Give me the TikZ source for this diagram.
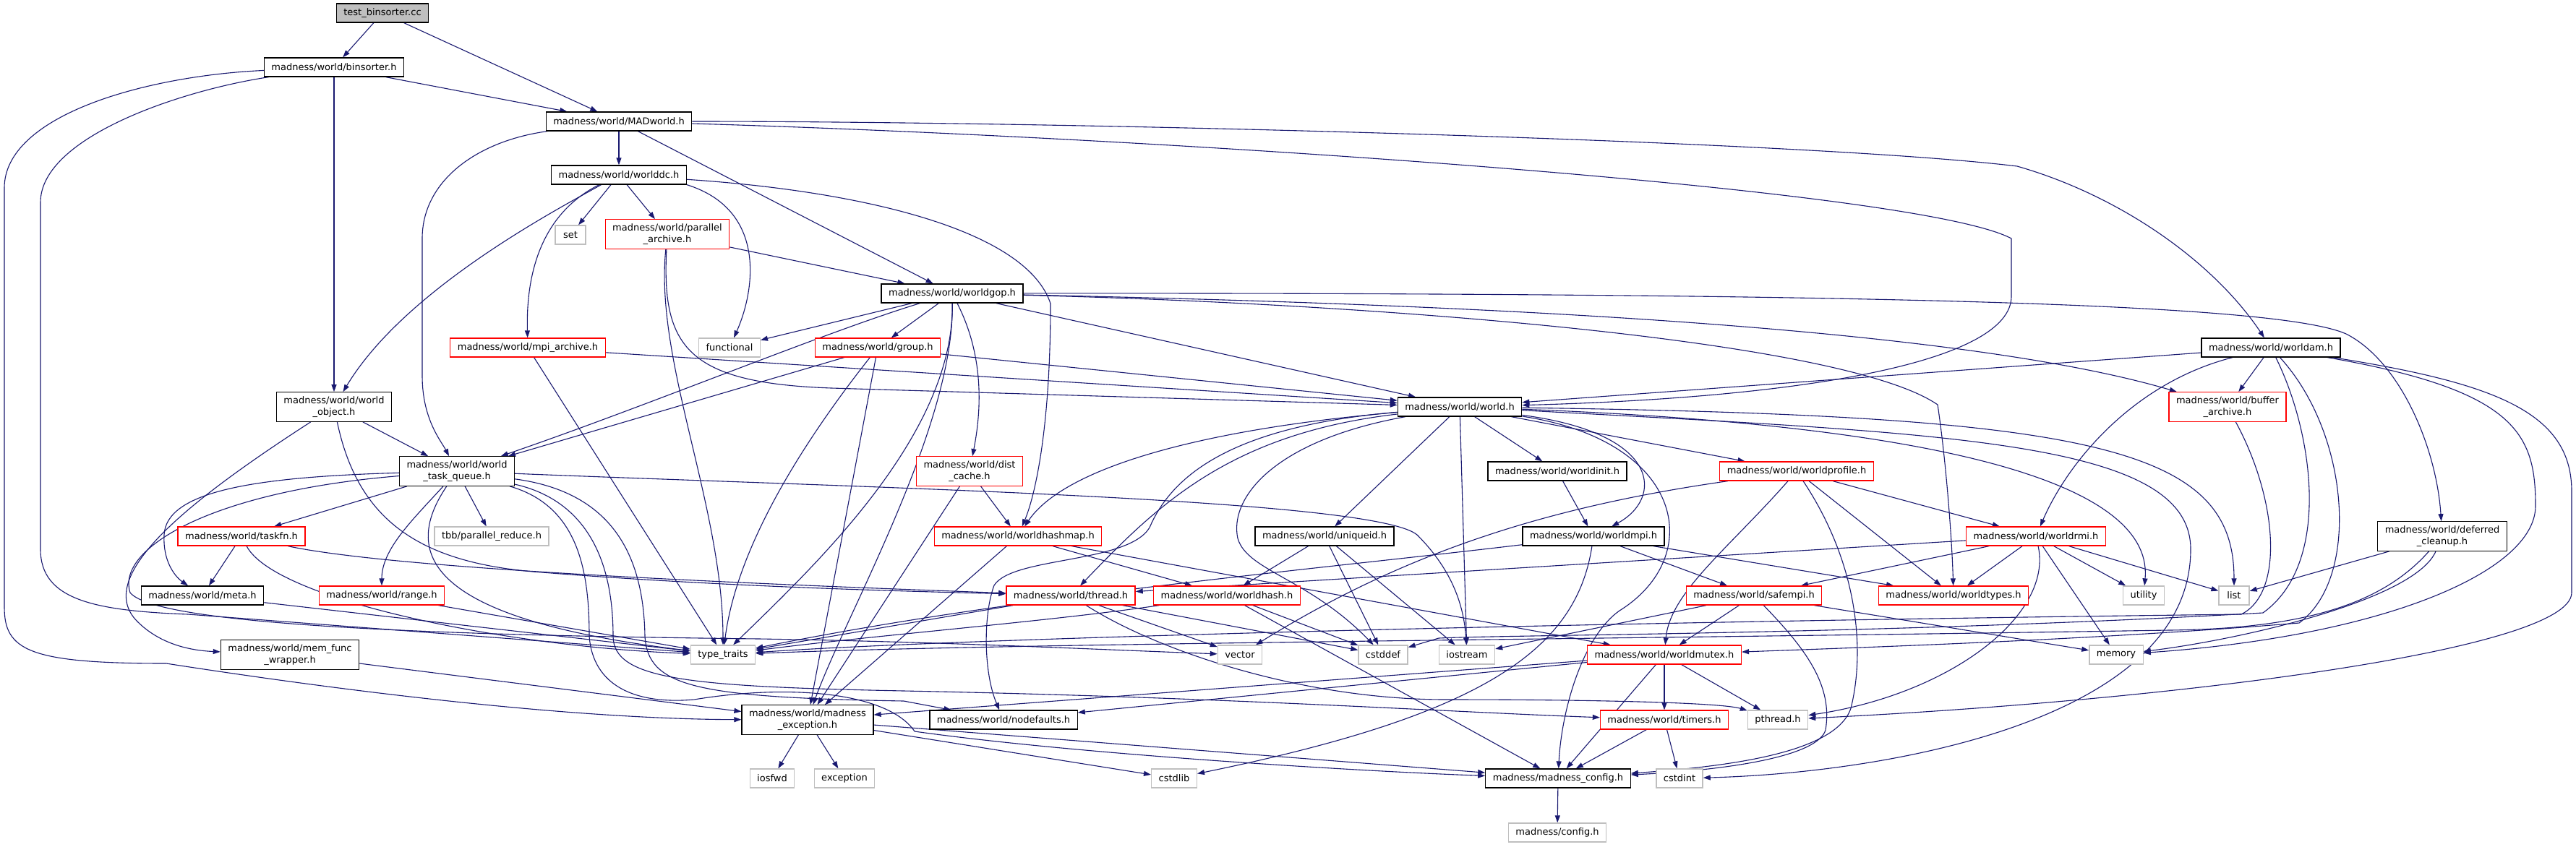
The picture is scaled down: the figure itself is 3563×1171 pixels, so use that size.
\documentclass[tikz,border=0pt]{standalone}
\usepackage{fontspec}
\setmainfont{DejaVu Sans}
\usepackage{tikz}
\usetikzlibrary{arrows.meta}
\definecolor{depblue}{RGB}{25,25,112}
\definecolor{sysgray}{RGB}{191,191,191}
\definecolor{cutred}{RGB}{255,0,0}
\pgfdeclarelayer{bg}
\pgfsetlayers{bg,main}

\begin{document}
\begin{tikzpicture}[x=1pt,y=-1pt,
  hdr/.style={draw=black,line width=1.3pt,fill=white,font=\fontsize{13}{15.5}\selectfont,
    inner xsep=10pt,inner ysep=6pt,minimum height=26pt,minimum width=42pt,align=center},
  mainhdr/.style={hdr,fill=sysgray},
  parthdr/.style={hdr,draw=cutred},
  syshdr/.style={hdr,draw=sysgray},
  dep/.style={draw=depblue,line width=1.1pt,-{Triangle[length=10pt,width=7pt]}}]
  \useasboundingbox (0,0) rectangle (3563,1171);
  % headers, row by row
  \node[mainhdr] (tb) at (529,18) {test\_binsorter.cc};
  \node[hdr] (bin) at (462,93) {madness/world/binsorter.h};
  \node[hdr] (mad) at (856,168) {madness/world/MADworld.h};
  \node[hdr] (wdc) at (856,242) {madness/world/worlddc.h};
  \node[syshdr] (set) at (789,325) {set};
  \node[parthdr] (par) at (923,324) {madness/world/parallel\\\_archive.h};
  \node[hdr] (gop) at (1317,406) {madness/world/worldgop.h};
  \node[parthdr] (mpia) at (730,481) {madness/world/mpi\_archive.h};
  \node[syshdr] (fun) at (1009,481) {functional};
  \node[parthdr] (grp) at (1214,481) {madness/world/group.h};
  \node[hdr] (wam) at (3141,481) {madness/world/worldam.h};
  \node[hdr] (wobj) at (462,563) {madness/world/world\\\_object.h};
  \node[hdr] (wld) at (2019,563) {madness/world/world.h};
  \node[parthdr] (buf) at (3081,563) {madness/world/buffer\\\_archive.h};
  \node[hdr] (wtq) at (632,652) {madness/world/world\\\_task\_queue.h};
  \node[parthdr] (dc) at (1341,652) {madness/world/dist\\\_cache.h};
  \node[hdr] (winit) at (2154,652) {madness/world/worldinit.h};
  \node[parthdr] (wprof) at (2485,652) {madness/world/worldprofile.h};
  \node[parthdr] (tfn) at (334,742) {madness/world/taskfn.h};
  \node[syshdr] (tbb) at (680,742) {tbb/parallel\_reduce.h};
  \node[parthdr] (whm) at (1408,742) {madness/world/worldhashmap.h};
  \node[hdr] (uid) at (1832,742) {madness/world/uniqueid.h};
  \node[hdr] (wmpi) at (2204,742) {madness/world/worldmpi.h};
  \node[parthdr] (wrmi) at (2816,742) {madness/world/worldrmi.h};
  \node[hdr] (dcl) at (3378,742) {madness/world/deferred\\\_cleanup.h};
  \node[hdr] (meta) at (280,824) {madness/world/meta.h};
  \node[parthdr] (rng) at (528,824) {madness/world/range.h};
  \node[parthdr] (thr) at (1481,824) {madness/world/thread.h};
  \node[parthdr] (wh) at (1697,824) {madness/world/worldhash.h};
  \node[parthdr] (smpi) at (2426,824) {madness/world/safempi.h};
  \node[parthdr] (wty) at (2702,824) {madness/world/worldtypes.h};
  \node[syshdr] (util) at (2965,824) {utility};
  \node[syshdr] (list) at (3090,824) {list};
  \node[hdr] (mfw) at (401,906) {madness/world/mem\_func\\\_wrapper.h};
  \node[syshdr] (tt) at (1000,906) {type\_traits};
  \node[syshdr] (vec) at (1715,906) {vector};
  \node[syshdr] (cdef) at (1913,906) {cstddef};
  \node[syshdr] (ios) at (2029,906) {iostream};
  \node[parthdr] (wmx) at (2302,906) {madness/world/worldmutex.h};
  \node[syshdr] (mem) at (2927,906) {memory};
  \node[hdr] (mex) at (1117,996) {madness/world/madness\\\_exception.h};
  \node[hdr] (ndf) at (1388,996) {madness/world/nodefaults.h};
  \node[parthdr] (tmr) at (2302,996) {madness/world/timers.h};
  \node[syshdr] (pth) at (2459,996) {pthread.h};
  \node[syshdr] (iosf) at (1068,1077) {iosfwd};
  \node[syshdr] (exc) at (1168,1077) {exception};
  \node[syshdr] (clib) at (1624,1077) {cstdlib};
  \node[hdr] (mcfg) at (2155,1077) {madness/madness\_config.h};
  \node[syshdr] (cint) at (2323,1077) {cstdint};
  \node[syshdr] (cfg) at (2154,1152) {madness/config.h};

  \begin{pgfonlayer}{bg}
  \fill[white] (0,0) rectangle (3563,1171);
  % straight includes
  \foreach \a/\b in {tb/bin,tb/mad,bin/mad,bin/wobj,mad/wdc,mad/gop,wdc/set,wdc/par,par/gop,
      gop/grp,gop/fun,gop/wld,grp/wld,grp/wtq,grp/mex,mpia/wld,mpia/tt,wobj/wtq,
      wtq/tfn,wtq/tbb,tfn/meta,meta/tt,rng/tt,mfw/mex,mex/iosf,mex/exc,mex/clib,mex/mcfg,mcfg/cfg,
      dc/whm,dc/mex,whm/wh,whm/wmx,whm/mex,uid/wh,uid/cdef,uid/ios,wld/uid,wld/ios,wld/winit,wld/wprof,
      winit/wmpi,wmpi/smpi,wmpi/wty,wprof/wrmi,wprof/wty,wrmi/smpi,wrmi/wty,wrmi/util,wrmi/list,
      wrmi/mem,wrmi/thr,smpi/wmx,smpi/ios,smpi/mem,wmx/tmr,wmx/mcfg,wmx/mex,wmx/ndf,wmx/pth,
      tmr/mcfg,tmr/cint,thr/vec,thr/cdef,thr/tt,wh/cdef,wh/mcfg,wam/buf,wam/wld,dcl/list}
    \draw[dep] (\a) -- (\b);

  % left side
  \draw[dep] (bin) .. controls (250,125) and (56,190) .. (56,280) -- (56,760)
    .. controls (56,830) and (130,845) .. (260,850) -- (tt);
  \draw[dep] (bin) .. controls (200,105) and (6,160) .. (6,260) -- (6,840)
    .. controls (6,900) and (40,918) .. (230,918) .. controls (500,960) and (800,995) .. (mex);
  \draw[dep] (mad) .. controls (660,195) and (584,250) .. (584,330) -- (584,520)
    .. controls (584,580) and (610,610) .. (wtq);
  \draw[dep] (wdc) .. controls (770,290) and (560,400) .. (wobj);
  \draw[dep] (wdc) .. controls (760,290) and (727,360) .. (mpia);
  \draw[dep] (wdc.south east) .. controls (1060,290) and (1045,400) .. (fun);
  \draw[dep] (wdc) .. controls (1200,265) and (1420,320) .. (1453,420)
    .. controls (1453,600) and (1430,690) .. (whm);
  \draw[dep] (par) .. controls (915,480) and (950,530) .. (1150,537) -- (wld);
  \draw[dep] (par) .. controls (905,500) and (1000,700) .. (tt);
  \draw[dep] (wobj) .. controls (495,720) and (580,780) .. (750,792)
    .. controls (1000,812) and (1250,818) .. (thr);
  \draw[dep] (wobj) .. controls (250,700) and (130,800) .. (190,860)
    .. controls (220,890) and (260,900) .. (mfw);
  \draw[dep] (tfn) .. controls (560,790) and (1100,810) .. (thr);
  \draw[dep] (tfn) .. controls (380,830) and (700,895) .. (tt);

  % world_task_queue.h
  \draw[dep] (wtq) .. controls (350,660) and (230,680) .. (227,740)
    .. controls (225,780) and (245,800) .. (meta);
  \draw[dep] (wtq) .. controls (290,680) and (160,760) .. (180,820)
    .. controls (220,870) and (700,880) .. (1050,884) .. controls (1300,888) and (1500,898) .. (vec);
  \draw[dep] (wtq) .. controls (545,780) and (620,860) .. (tt);
  \draw[dep] (wtq) .. controls (570,720) and (528,760) .. (rng);
  \draw[dep] (wtq) .. controls (1200,675) and (1900,690) .. (1960,740)
    .. controls (2010,790) and (2025,840) .. (ios);
  \draw[dep] (wtq) .. controls (800,690) and (848,760) .. (848,880)
    .. controls (848,940) and (950,950) .. (1250,956) .. controls (1700,965) and (2000,985) .. (tmr);
  \draw[dep] (wtq) .. controls (840,680) and (890,760) .. (892,880)
    .. controls (896,950) and (960,965) .. (1250,970) -- (ndf);
  \draw[dep] (wtq) .. controls (800,700) and (815,790) .. (815,880)
    .. controls (820,950) and (880,975) .. (960,968) .. controls (1100,945) and (1230,960) .. (1265,1012)
    .. controls (1500,1045) and (1900,1068) .. (mcfg);

  % MADworld.h and worldgop.h
  \draw[dep] (mad) .. controls (1500,168) and (2500,195) .. (2790,230)
    .. controls (2930,270) and (3060,360) .. (wam);
  \draw[dep] (mad) .. controls (1600,190) and (2650,260) .. (2782,330) -- (2782,410)
    .. controls (2782,500) and (2500,550) .. (wld);
  \draw[dep] (gop) .. controls (1140,460) and (900,560) .. (wtq);
  \draw[dep] (gop) .. controls (1320,600) and (1130,780) .. (tt);
  \draw[dep] (gop) .. controls (1320,590) and (1170,850) .. (mex);
  \draw[dep] (gop) .. controls (1365,500) and (1355,580) .. (dc);
  \draw[dep] (grp) .. controls (1120,600) and (1020,750) .. (tt);
  \draw[dep] (gop) .. controls (1900,420) and (2550,470) .. (2680,560)
    .. controls (2692,640) and (2700,750) .. (wty);
  \draw[dep] (gop) .. controls (2000,420) and (2700,450) .. (buf);
  \draw[dep] (gop) .. controls (2600,405) and (3150,420) .. (3245,462)
    .. controls (3320,500) and (3370,620) .. (dcl);

  % world.h
  \draw[dep] (wld) .. controls (1650,595) and (1470,650) .. (whm);
  \draw[dep] (wld) .. controls (1700,600) and (1600,700) .. (thr);
  \draw[dep] (wld) .. controls (1700,590) and (1620,660) .. (1590,730)
    .. controls (1560,780) and (1400,770) .. (1375,810) .. controls (1360,850) and (1360,930) .. (ndf);
  \draw[dep] (wld) .. controls (1760,610) and (1700,690) .. (1712,745)
    .. controls (1725,790) and (1810,800) .. (cdef);
  \draw[dep] (wld) .. controls (2300,600) and (2300,690) .. (wmpi);
  \draw[dep] (wld) .. controls (2330,610) and (2360,770) .. (2240,845)
    .. controls (2190,880) and (2160,980) .. (mcfg);
  \draw[dep] (wld) .. controls (2600,585) and (2980,650) .. (util);
  \draw[dep] (wld) .. controls (2900,575) and (3090,620) .. (list);
  \draw[dep] (wld) .. controls (2700,600) and (3030,610) .. (3030,760)
    .. controls (3030,1000) and (2600,1070) .. (cint);

  % worldam.h, buffer_archive.h, deferred_cleanup.h
  \draw[dep] (wam) .. controls (2950,530) and (2860,640) .. (wrmi);
  \draw[dep] (wam) .. controls (3200,600) and (3225,780) .. (3130,848)
    .. controls (2600,878) and (2100,878) .. (1990,883) -- (cdef);
  \draw[dep] (wam) .. controls (3250,600) and (3265,800) .. (3180,862)
    .. controls (2900,885) and (2600,895) .. (wmx);
  \draw[dep] (wam) .. controls (3480,540) and (3507,600) .. (3507,700)
    .. controls (3507,790) and (3300,880) .. (mem);
  \draw[dep] (wam) .. controls (3450,530) and (3557,570) .. (3557,680) -- (3557,820)
    .. controls (3557,900) and (3000,970) .. (pth);
  \draw[dep] (buf) .. controls (3150,690) and (3160,820) .. (3100,850)
    .. controls (2100,862) and (1300,885) .. (tt);
  \draw[dep] (dcl) .. controls (3340,830) and (3100,885) .. (mem);
  \draw[dep] (dcl) .. controls (3300,830) and (3200,870) .. (3000,872)
    .. controls (2200,885) and (1400,890) .. (tt);

  % lower middle
  \draw[dep] (thr) .. controls (1600,900) and (1800,968) .. (2000,968)
    .. controls (2200,968) and (2380,972) .. (pth);
  \draw[dep] (wh) .. controls (1450,860) and (1200,880) .. (tt);
  \draw[dep] (wmpi) .. controls (1800,790) and (1400,825) .. (tt);
  \draw[dep] (wmpi) .. controls (2180,900) and (2050,990) .. (clib);
  \draw[dep] (wprof) .. controls (2150,700) and (1950,760) .. (vec);
  \draw[dep] (wprof) .. controls (2390,760) and (2310,820) .. (wmx);
  \draw[dep] (wprof) .. controls (2570,780) and (2580,900) .. (2560,980)
    .. controls (2540,1040) and (2400,1060) .. (mcfg);
  \draw[dep] (smpi) .. controls (2500,900) and (2535,950) .. (2525,1010)
    .. controls (2515,1045) and (2400,1065) .. (mcfg);
  \draw[dep] (wrmi) .. controls (2840,850) and (2700,960) .. (pth);
  \end{pgfonlayer}
\end{tikzpicture}
\end{document}
